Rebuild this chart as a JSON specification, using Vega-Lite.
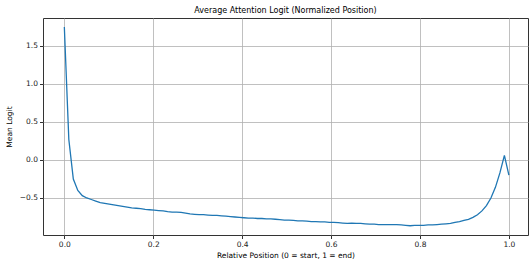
{
  "$schema": "https://vega.github.io/schema/vega-lite/v6.json",
  "width": 485,
  "height": 217,
  "autosize": {"type": "none"},
  "padding": {"left": 43, "top": 18, "right": 1, "bottom": 28},
  "background": "white",
  "title": {"text": "Average Attention Logit (Normalized Position)", "font": "DejaVu Sans", "fontSize": 8, "fontWeight": "normal", "color": "black", "offset": 3},
  "config": {
    "view": {"stroke": "#333333", "strokeWidth": 1},
    "axis": {
      "labelFont": "DejaVu Sans", "labelFontSize": 7.5, "labelColor": "#222222",
      "titleFont": "DejaVu Sans", "titleFontSize": 7.5, "titleFontWeight": "normal", "titleColor": "black",
      "gridColor": "#b0b0b0", "gridWidth": 0.8, "tickColor": "#333333", "tickSize": 3.5, "domain": false, "labelPadding": 2
    }
  },
  "data": {"values": [
    {"pos": 0.0000, "logit": 1.75},
    {"pos": 0.0101, "logit": 0.27},
    {"pos": 0.0202, "logit": -0.25},
    {"pos": 0.0303, "logit": -0.40},
    {"pos": 0.0404, "logit": -0.47},
    {"pos": 0.0505, "logit": -0.50},
    {"pos": 0.0606, "logit": -0.52},
    {"pos": 0.0707, "logit": -0.54},
    {"pos": 0.0808, "logit": -0.56},
    {"pos": 0.0909, "logit": -0.57},
    {"pos": 0.1010, "logit": -0.58},
    {"pos": 0.1111, "logit": -0.59},
    {"pos": 0.1212, "logit": -0.60},
    {"pos": 0.1313, "logit": -0.61},
    {"pos": 0.1414, "logit": -0.62},
    {"pos": 0.1515, "logit": -0.63},
    {"pos": 0.1616, "logit": -0.635},
    {"pos": 0.1717, "logit": -0.64},
    {"pos": 0.1818, "logit": -0.65},
    {"pos": 0.1919, "logit": -0.655},
    {"pos": 0.2020, "logit": -0.66},
    {"pos": 0.2121, "logit": -0.665},
    {"pos": 0.2222, "logit": -0.67},
    {"pos": 0.2323, "logit": -0.68},
    {"pos": 0.2424, "logit": -0.685},
    {"pos": 0.2525, "logit": -0.685},
    {"pos": 0.2626, "logit": -0.69},
    {"pos": 0.2727, "logit": -0.70},
    {"pos": 0.2828, "logit": -0.71},
    {"pos": 0.2929, "logit": -0.715},
    {"pos": 0.3030, "logit": -0.72},
    {"pos": 0.3131, "logit": -0.72},
    {"pos": 0.3232, "logit": -0.725},
    {"pos": 0.3333, "logit": -0.73},
    {"pos": 0.3434, "logit": -0.73},
    {"pos": 0.3535, "logit": -0.735},
    {"pos": 0.3636, "logit": -0.74},
    {"pos": 0.3737, "logit": -0.745},
    {"pos": 0.3838, "logit": -0.75},
    {"pos": 0.3939, "logit": -0.755},
    {"pos": 0.4040, "logit": -0.76},
    {"pos": 0.4141, "logit": -0.765},
    {"pos": 0.4242, "logit": -0.765},
    {"pos": 0.4343, "logit": -0.77},
    {"pos": 0.4444, "logit": -0.77},
    {"pos": 0.4545, "logit": -0.775},
    {"pos": 0.4646, "logit": -0.775},
    {"pos": 0.4747, "logit": -0.78},
    {"pos": 0.4848, "logit": -0.785},
    {"pos": 0.4949, "logit": -0.79},
    {"pos": 0.5051, "logit": -0.79},
    {"pos": 0.5152, "logit": -0.795},
    {"pos": 0.5253, "logit": -0.80},
    {"pos": 0.5354, "logit": -0.80},
    {"pos": 0.5455, "logit": -0.805},
    {"pos": 0.5556, "logit": -0.81},
    {"pos": 0.5657, "logit": -0.81},
    {"pos": 0.5758, "logit": -0.815},
    {"pos": 0.5859, "logit": -0.815},
    {"pos": 0.5960, "logit": -0.82},
    {"pos": 0.6061, "logit": -0.82},
    {"pos": 0.6162, "logit": -0.825},
    {"pos": 0.6263, "logit": -0.83},
    {"pos": 0.6364, "logit": -0.835},
    {"pos": 0.6465, "logit": -0.83},
    {"pos": 0.6566, "logit": -0.835},
    {"pos": 0.6667, "logit": -0.835},
    {"pos": 0.6768, "logit": -0.84},
    {"pos": 0.6869, "logit": -0.845},
    {"pos": 0.6970, "logit": -0.845},
    {"pos": 0.7071, "logit": -0.85},
    {"pos": 0.7172, "logit": -0.85},
    {"pos": 0.7273, "logit": -0.85},
    {"pos": 0.7374, "logit": -0.85},
    {"pos": 0.7475, "logit": -0.85},
    {"pos": 0.7576, "logit": -0.855},
    {"pos": 0.7677, "logit": -0.86},
    {"pos": 0.7778, "logit": -0.865},
    {"pos": 0.7879, "logit": -0.86},
    {"pos": 0.7980, "logit": -0.86},
    {"pos": 0.8081, "logit": -0.86},
    {"pos": 0.8182, "logit": -0.855},
    {"pos": 0.8283, "logit": -0.855},
    {"pos": 0.8384, "logit": -0.85},
    {"pos": 0.8485, "logit": -0.845},
    {"pos": 0.8586, "logit": -0.84},
    {"pos": 0.8687, "logit": -0.835},
    {"pos": 0.8788, "logit": -0.82},
    {"pos": 0.8889, "logit": -0.81},
    {"pos": 0.8990, "logit": -0.795},
    {"pos": 0.9091, "logit": -0.78},
    {"pos": 0.9192, "logit": -0.755},
    {"pos": 0.9293, "logit": -0.72},
    {"pos": 0.9394, "logit": -0.67},
    {"pos": 0.9495, "logit": -0.60},
    {"pos": 0.9596, "logit": -0.50},
    {"pos": 0.9697, "logit": -0.36},
    {"pos": 0.9798, "logit": -0.17},
    {"pos": 0.9899, "logit": 0.06},
    {"pos": 1.0000, "logit": -0.20}
  ]},
  "mark": {"type": "line", "color": "#1f77b4", "strokeWidth": 1.3},
  "encoding": {
    "x": {
      "field": "pos", "type": "quantitative",
      "scale": {"domain": [-0.048, 1.043], "nice": false, "zero": false},
      "axis": {"values": [0, 0.2, 0.4, 0.6, 0.8, 1.0], "format": ".1f", "title": "Relative Position (0 = start, 1 = end)", "titlePadding": 3}
    },
    "y": {
      "field": "logit", "type": "quantitative",
      "scale": {"domain": [-0.987, 1.868], "nice": false, "zero": false},
      "axis": {"values": [-0.5, 0.0, 0.5, 1.0, 1.5], "format": ".1f", "title": "Mean Logit", "titlePadding": 6}
    }
  }
}
